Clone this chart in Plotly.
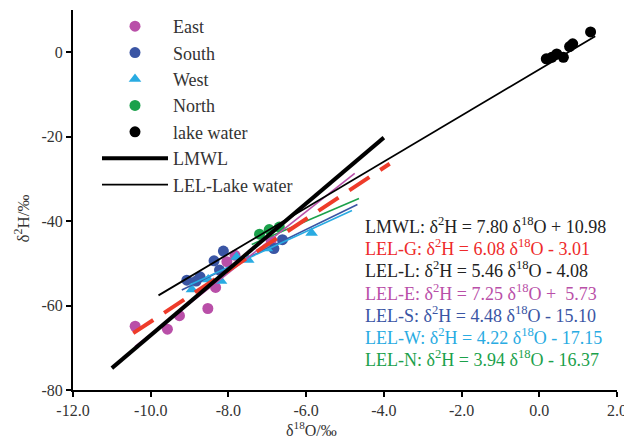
import plotly.graph_objects as go

# ---- data ----
east_x = [-10.4, -9.57, -9.26, -8.53, -8.33, -8.04, -7.83, -6.9]
east_y = [-64.9, -65.6, -62.4, -60.7, -55.7, -49.6, -48.1, -44.6]
south_x = [-9.07, -8.83, -8.73, -8.37, -8.23, -8.13, -6.83, -6.61]
south_y = [-54.0, -54.2, -53.2, -49.4, -51.6, -47.1, -46.5, -44.4]
west_x = [-8.94, -8.52, -8.19, -7.79, -7.49, -7.01, -5.86]
west_y = [-56.2, -53.8, -54.2, -48.5, -49.2, -46.5, -42.8]
north_x = [-7.2, -6.95, -6.69]
north_y = [-43.1, -42.0, -41.4]
lake_x = [0.18, 0.32, 0.45, 0.62, 0.78, 0.86, 1.32]
lake_y = [-1.57, -1.2, -0.4, -1.2, 1.35, 2.0, 4.8]

# regression lines: (slope, intercept, x_start, x_end)
lmwl = (7.80, 10.98, -11.0, -4.0)
lel_l = (5.46, -4.08, -9.8, 1.44)
lel_g = (6.08, -3.01, -10.45, -3.85)
lel_e = (7.25, 5.73, -10.4, -4.75)
lel_s = (4.48, -15.10, -9.2, -4.68)
lel_w = (4.22, -17.15, -9.0, -4.82)
lel_n = (3.94, -16.37, -7.4, -4.64)

eq_texts = [
    "LMWL: δ<sup>2</sup>H = 7.80 δ<sup>18</sup>O + 10.98",
    "LEL-G: δ<sup>2</sup>H = 6.08 δ<sup>18</sup>O - 3.01",
    "LEL-L: δ<sup>2</sup>H = 5.46 δ<sup>18</sup>O - 4.08",
    "LEL-E: δ<sup>2</sup>H = 7.25 δ<sup>18</sup>O +  5.73",
    "LEL-S: δ<sup>2</sup>H = 4.48 δ<sup>18</sup>O - 15.10",
    "LEL-W: δ<sup>2</sup>H = 4.22 δ<sup>18</sup>O - 17.15",
    "LEL-N: δ<sup>2</sup>H = 3.94 δ<sup>18</sup>O - 16.37",
]
x_title = "δ<sup>18</sup>O/‰"
y_title = "δ<sup>2</sup>H/‰"

x_ticks = [-12, -10, -8, -6, -4, -2, 0, 2]
x_ticklabels = ["-12.0", "-10.0", "-8.0", "-6.0", "-4.0", "-2.0", "0.0", "2.0"]
y_ticks = [-80, -60, -40, -20, 0]
y_ticklabels = ["-80", "-60", "-40", "-20", "0"]

# ---- styles ----
C_E = "#B94FA8"
C_S = "#3A55A4"
C_W = "#29ABE2"
C_N = "#1BA14B"
C_G = "#EE3B2A"
eq_colors = ["#222222", "#EE2A2A", "#222222", C_E, C_S, C_W, C_N]
FONT = "Liberation Serif, Times New Roman, serif"

# page body has an 8px margin: figure is sized so the plot area lands on the reference
W, H = 624, 433
ML, MR, MT, MB = 65, 15, 1, 51
PW, PH = W - ML - MR, H - MT - MB
OX, OY = 73, 9  # page position of plot-area top-left


def px_x(p):
    return (p - OX) / PW


def px_y(p):
    return 1 - (p - OY) / PH


def seg(p):
    k, b, x0, x1 = p
    return [x0, x1], [k * x0 + b, k * x1 + b]


fig = go.Figure()
for name, xs, ys, col, sym in [
    ("East", east_x, east_y, C_E, "circle"),
    ("South", south_x, south_y, C_S, "circle"),
    ("West", west_x, west_y, C_W, "triangle-up"),
    ("North", north_x, north_y, C_N, "circle"),
    ("lake water", lake_x, lake_y, "#000000", "circle"),
]:
    fig.add_trace(go.Scatter(x=xs, y=ys, mode="markers", name=name,
                             marker=dict(color=col, size=11, symbol=sym)))

for p, col, w, dash in [
    (lel_s, C_S, 1.6, "solid"),
    (lel_w, C_W, 1.6, "solid"),
    (lel_n, C_N, 1.6, "solid"),
    (lel_e, C_E, 1.6, "solid"),
    (lel_g, C_G, 4, "24px,13px"),
]:
    xs, ys = seg(p)
    fig.add_trace(go.Scatter(x=xs, y=ys, mode="lines", showlegend=False,
                             line=dict(color=col, width=w, dash=dash)))

xs, ys = seg(lmwl)
fig.add_trace(go.Scatter(x=xs, y=ys, mode="lines", name="LMWL",
                         line=dict(color="#000000", width=4)))
xs, ys = seg(lel_l)
fig.add_trace(go.Scatter(x=xs, y=ys, mode="lines", name="LEL-Lake water",
                         line=dict(color="#000000", width=1.8)))

for i, (t, c) in enumerate(zip(eq_texts, eq_colors)):
    fig.add_annotation(text=t, xref="paper", yref="paper",
                       x=px_x(363), y=px_y(225 + i * 22.3),
                       xanchor="left", yanchor="middle", showarrow=False,
                       font=dict(family=FONT, size=18, color=c))

fig.add_annotation(text=x_title, xref="paper", yref="paper",
                   x=px_x(311), y=px_y(429), xanchor="center", yanchor="middle",
                   showarrow=False, font=dict(family=FONT, size=16, color="#333333"))
fig.add_annotation(text=y_title, xref="paper", yref="paper", textangle=-90,
                   x=px_x(22), y=px_y(218), xanchor="center", yanchor="middle",
                   showarrow=False, font=dict(family=FONT, size=17, color="#333333"))

fig.update_layout(
    width=W, height=H,
    margin=dict(l=ML, r=MR, t=MT, b=MB),
    paper_bgcolor="white", plot_bgcolor="white",
    font=dict(family=FONT, size=16, color="#333333"),
    showlegend=True,
    legend=dict(x=px_x(97), y=px_y(8), xanchor="left", yanchor="top",
                bgcolor="rgba(0,0,0,0)", font=dict(family=FONT, size=18, color="#333333"),
                tracegroupgap=0, itemwidth=66),
    xaxis=dict(range=[-12, 2], tickvals=x_ticks, ticktext=x_ticklabels,
               showgrid=False, zeroline=False, showline=True, linecolor="black",
               linewidth=2, ticks="outside", ticklen=5, tickwidth=2, tickcolor="black",
               tickfont=dict(size=16)),
    yaxis=dict(range=[-80, 10], tickvals=y_ticks, ticktext=y_ticklabels,
               showgrid=False, zeroline=False, showline=True, linecolor="black",
               linewidth=2, ticks="outside", ticklen=5, tickwidth=2, tickcolor="black",
               tickfont=dict(size=16)),
)

fig.write_html("out.html")
